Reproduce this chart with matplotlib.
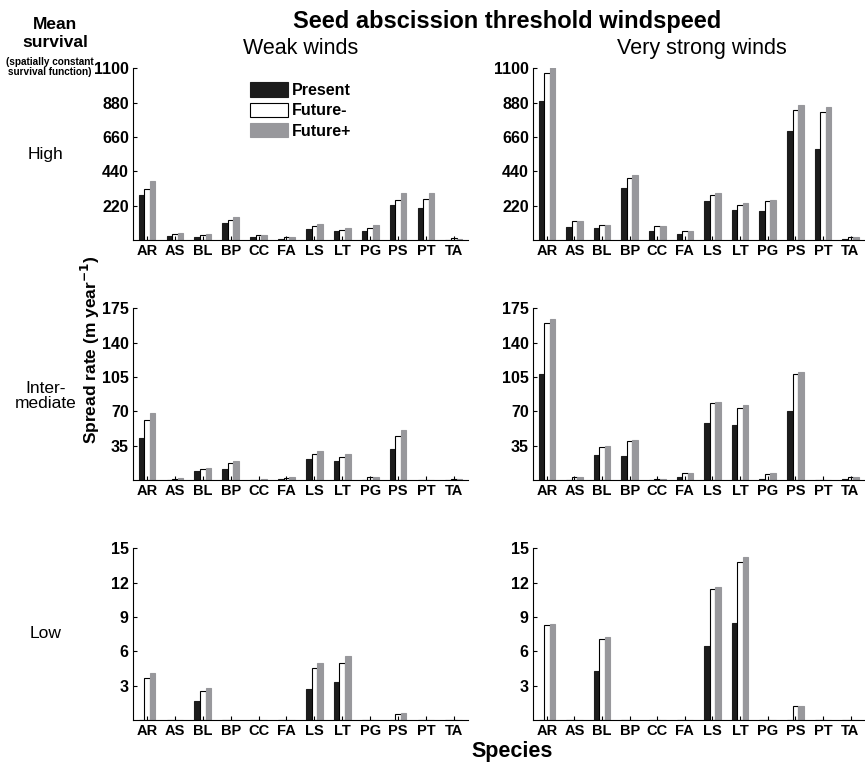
import matplotlib
matplotlib.use('Agg')
import matplotlib.pyplot as plt
import numpy as np
from matplotlib.patches import Patch

plt.rcParams['font.family'] = ['Liberation Sans', 'DejaVu Sans']

species = ['AR', 'AS', 'BL', 'BP', 'CC', 'FA', 'LS', 'LT', 'PG', 'PS', 'PT', 'TA']
scenarios = ['Present', 'Future-', 'Future+']

# High survival, weak winds
high_weak_present = [286, 28, 21, 107, 21, 9, 73, 58, 56, 223, 202, 3]
high_weak_fminus = [329, 39, 30, 127, 30, 19, 88, 67, 75, 258, 264, 10]
high_weak_fplus = [380, 43, 37, 148, 32, 17, 105, 77, 97, 303, 303, 8]

# High survival, very strong winds
high_strong_present = [890, 86, 79, 331, 56, 41, 247, 191, 187, 698, 580, 6]
high_strong_fminus = [1070, 122, 97, 397, 88, 56, 290, 226, 249, 834, 821, 17]
high_strong_fplus = [1106, 122, 97, 415, 88, 56, 301, 236, 258, 866, 849, 17]

# Intermediate survival, weak winds
mid_weak_present = [43, 0, 8.8, 11.2, 0.3, 1.0, 21, 19, 0.3, 31.6, 0.3, 0.3]
mid_weak_fminus = [61, 1.4, 10.9, 17.7, 0.5, 2.0, 27, 23.4, 3.0, 45, 0.3, 1.5]
mid_weak_fplus = [68, 1.7, 12.6, 19.4, 0.7, 3.0, 30, 27, 3.0, 50.6, 0.3, 1.0]

# Intermediate survival, very strong winds
mid_strong_present = [107.7, 0, 25.5, 24.8, 0.2, 3.4, 57.8, 56.4, 1.0, 70.7, 0.3, 1.4]
mid_strong_fminus = [160, 3.0, 33.6, 39.8, 1.4, 6.8, 78, 73.7, 5.8, 107.7, 0.3, 3.0]
mid_strong_fplus = [164.5, 3.0, 34.7, 40.4, 1.4, 6.8, 79.5, 76, 6.8, 110, 0.3, 3.0]

# Low survival, weak winds
low_weak_present = [0, 0, 1.68, 0, 0, 0, 2.73, 3.31, 0, 0, 0, 0]
low_weak_fminus = [3.63, 0, 2.52, 0, 0, 0, 4.5, 5.02, 0, 0.49, 0, 0]
low_weak_fplus = [4.09, 0, 2.81, 0, 0, 0, 5.02, 5.6, 0, 0.58, 0, 0]

# Low survival, very strong winds
low_strong_present = [0, 0, 4.26, 0, 0, 0, 6.44, 8.47, 0, 0, 0, 0]
low_strong_fminus = [8.27, 0, 7.05, 0, 0, 0, 11.4, 13.84, 0, 1.22, 0, 0]
low_strong_fplus = [8.36, 0, 7.25, 0, 0, 0, 11.6, 14.2, 0, 1.22, 0, 0]

row_ticks = [[220, 440, 660, 880, 1100], [35, 70, 105, 140, 175], [3, 6, 9, 12, 15]]
row_labels = ['High', 'Inter-\nmediate', 'Low']

panels = [
    [(high_weak_present, high_weak_fminus, high_weak_fplus),
     (high_strong_present, high_strong_fminus, high_strong_fplus)],
    [(mid_weak_present, mid_weak_fminus, mid_weak_fplus),
     (mid_strong_present, mid_strong_fminus, mid_strong_fplus)],
    [(low_weak_present, low_weak_fminus, low_weak_fplus),
     (low_strong_present, low_strong_fminus, low_strong_fplus)],
]

bar_face = ['#1c1c1c', 'white', '#98989c']
bar_edge = ['#1c1c1c', 'black', '#98989c']

fig = plt.figure(figsize=(8.65, 7.65), dpi=100)

lefts = [0.1538, 0.6162]
widths = [0.387, 0.383]
bottoms = [0.6863, 0.3725, 0.0588]
height = 0.2245

x = np.arange(1, len(species) + 1)
w = 0.2
for r in range(3):
    for c in range(2):
        ax = fig.add_axes([lefts[c], bottoms[r], widths[c], height])
        for k in range(3):
            ax.bar(x + (k - 1) * w, panels[r][c][k], width=w, color=bar_face[k],
                   edgecolor=bar_edge[k], linewidth=0.8)
        ax.set_xlim(0.5, 12.5)
        ax.set_ylim(0, row_ticks[r][-1])
        ax.set_xticks(x)
        ax.set_xticklabels(species, fontweight='bold', fontsize=10.5)
        ax.set_yticks(row_ticks[r])
        ax.set_yticklabels([str(t) for t in row_ticks[r]], fontweight='bold', fontsize=11.5)
        ax.tick_params(direction='in', length=3, width=0.8, pad=3)
        ax.spines['top'].set_visible(False)
        ax.spines['right'].set_visible(False)
        ax.spines['left'].set_linewidth(0.8)
        ax.spines['bottom'].set_linewidth(0.8)
        if r == 0 and c == 0:
            handles = [Patch(facecolor=bar_face[k], edgecolor=bar_edge[k], linewidth=0.8)
                       for k in range(3)]
            ax.legend(handles, scenarios, loc='upper left', bbox_to_anchor=(0.33, 0.955),
                      frameon=False, prop={'weight': 'bold', 'size': 11.5},
                      handlelength=2.4, handleheight=1.0, handletextpad=0.2,
                      labelspacing=0.3, borderaxespad=0)

fig.text(0.586, 0.972, 'Seed abscission threshold windspeed', ha='center', va='center',
         fontsize=17, fontweight='bold')
fig.text(0.347, 0.937, 'Weak winds', ha='center', va='center', fontsize=15.5)
fig.text(0.811, 0.937, 'Very strong winds', ha='center', va='center', fontsize=15.5)

fig.text(0.064, 0.956, 'Mean\nsurvival', ha='center', va='center', fontsize=12.5,
         fontweight='bold', linespacing=1.25)
fig.text(0.058, 0.912, '(spatially constant\nsurvival function)', ha='center', va='center',
         fontsize=7.2, fontweight='bold', linespacing=1.0)

row_y = [1 - 155 / 765, 1 - 396 / 765, 1 - 634 / 765]
for r in range(3):
    fig.text(0.053, row_y[r], row_labels[r], ha='center', va='center', fontsize=12.5,
             linespacing=1.0)

fig.text(0.104, 1 - 350 / 765, 'Spread rate (m year$^{\\mathbf{-1}}$)', rotation=90,
         ha='center', va='center', fontsize=12.5, fontweight='bold')
fig.text(0.592, 1 - 752 / 765, 'Species', ha='center', va='center', fontsize=15.5,
         fontweight='bold')

fig.savefig('out.png', dpi=100)
